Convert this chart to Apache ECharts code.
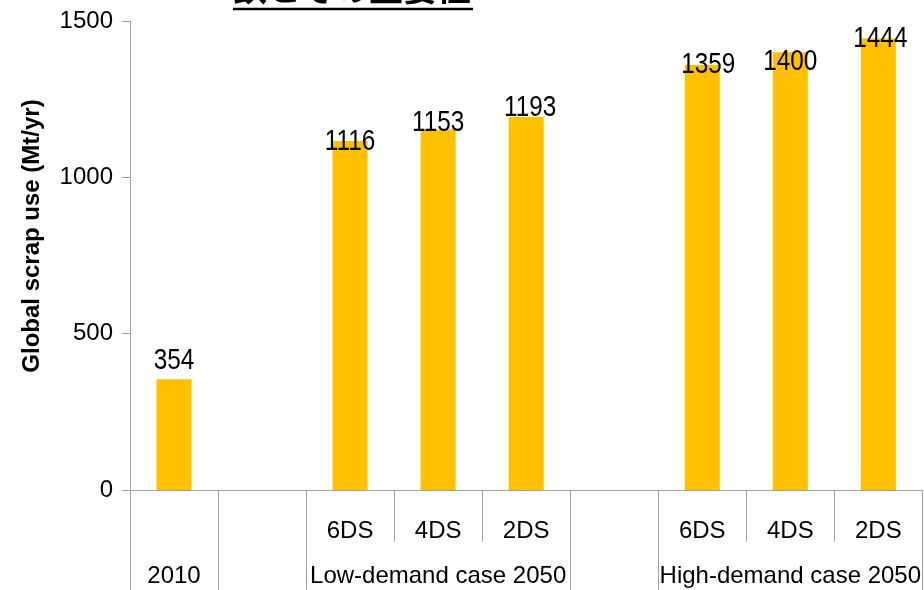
<!DOCTYPE html>
<html>
<head>
<meta charset="utf-8">
<script src="https://cdn.jsdelivr.net/npm/echarts@6/dist/echarts.min.js"></script>
<style>
html, body { margin: 0; padding: 0; background: #ffffff; }
#chart { width: 924px; height: 590px; }
</style>
</head>
<body>
<div id="chart"></div>
<script>
// Scenario slots along the category axis (empty slots separate the groups)
const scenarioLabels = ['', '', '6DS', '4DS', '2DS', '', '6DS', '4DS', '2DS'];
// Second row: year / demand case, centred under its slots
const groupLabels = ['2010', '', '', 'Low-demand case 2050', '', '', '', 'High-demand case 2050', ''];
// Global scrap use, Mt/yr
const scrapUse = [354, null, 1116, 1153, 1193, null, 1359, 1400, 1444];
// Value axis ticks
const yTicks = [0, 500, 1000, 1500];

const titleText = '鉄とその重要性';
const yTitle = 'Global scrap use (Mt/yr)';

// small per-bar nudges of the value labels, in pixels [dx, dy]
const labelNudge = [[0, -18], null, [0, 1], [0, -6], [4, -9], null, [6, 0], [0, 10], [2, 0]];

const lineGray = '#a0a0a0';
const textFont = 'Liberation Sans, Arial, sans-serif';

const chart = echarts.init(document.getElementById('chart'), null, { renderer: 'canvas' });

const barData = scrapUse.map(v => (v === null ? '-' : v));
const labelData = [];
scrapUse.forEach((v, i) => { if (v !== null) labelData.push([i, v]); });

const groupBoundaries = [0, 1, 2, 5, 6];

// value labels drawn slightly condensed
function renderValueLabel(params, api) {
  const i = api.value(0);
  const v = api.value(1);
  const p = api.coord([i, v]);
  const n = labelNudge[i] || [0, 0];
  return {
    type: 'text',
    x: p[0] + n[0],
    y: p[1] + n[1],
    scaleX: 0.84,
    style: {
      text: String(v),
      fill: '#000',
      font: '29px "Liberation Sans", Arial, sans-serif',
      textAlign: 'center',
      textVerticalAlign: 'middle'
    }
  };
}

chart.setOption({
  animation: false,
  backgroundColor: '#ffffff',
  grid: { left: 130, right: 0, top: 21, bottom: 100, containLabel: false },
  xAxis: [
    {
      type: 'category',
      data: scenarioLabels,
      position: 'bottom',
      boundaryGap: true,
      axisLine: { show: true, lineStyle: { color: lineGray, width: 1 } },
      axisTick: { show: true, length: 52, interval: 0, lineStyle: { color: lineGray, width: 1 } },
      axisLabel: { interval: 0, margin: 29, fontSize: 24, color: '#000', fontFamily: textFont },
      splitLine: { show: false }
    },
    {
      type: 'category',
      data: groupLabels,
      position: 'bottom',
      offset: 0,
      boundaryGap: true,
      axisLine: { show: false },
      axisTick: {
        show: true,
        length: 100,
        interval: (idx) => groupBoundaries.indexOf(idx) !== -1,
        lineStyle: { color: lineGray, width: 1 }
      },
      axisLabel: { interval: 0, margin: 74, fontSize: 24, color: '#000', fontFamily: textFont },
      splitLine: { show: false }
    }
  ],
  yAxis: {
    type: 'value',
    min: yTicks[0],
    max: yTicks[yTicks.length - 1],
    interval: yTicks[1] - yTicks[0],
    axisLine: { show: true, lineStyle: { color: lineGray, width: 1 } },
    axisTick: { show: true, length: 8, lineStyle: { color: lineGray, width: 1 } },
    axisLabel: {
      margin: 17, fontSize: 24, color: '#000', fontFamily: textFont,
      formatter: (v) => String(v)
    },
    splitLine: { show: false }
  },
  series: [
    {
      type: 'bar',
      xAxisIndex: 0,
      data: barData,
      barWidth: 35,
      itemStyle: { color: '#ffc000' }
    },
    {
      type: 'custom',
      xAxisIndex: 0,
      data: labelData,
      renderItem: renderValueLabel,
      z: 5
    }
  ],
  graphic: [
    {
      type: 'text',
      x: 233,
      y: 5,
      style: {
        text: titleText,
        fill: '#000',
        font: 'bold 34px "Noto Sans CJK JP", sans-serif',
        textAlign: 'left',
        textVerticalAlign: 'bottom'
      }
    },
    {
      type: 'line',
      shape: { x1: 233, y1: 9, x2: 473, y2: 9 },
      style: { stroke: '#000', lineWidth: 2.5 }
    },
    {
      type: 'text',
      x: 32,
      y: 236,
      rotation: Math.PI / 2,
      style: {
        text: yTitle,
        fill: '#000',
        font: 'bold 24px "Liberation Sans", Arial, sans-serif',
        textAlign: 'center',
        textVerticalAlign: 'middle'
      }
    }
  ]
});
</script>
</body>
</html>
